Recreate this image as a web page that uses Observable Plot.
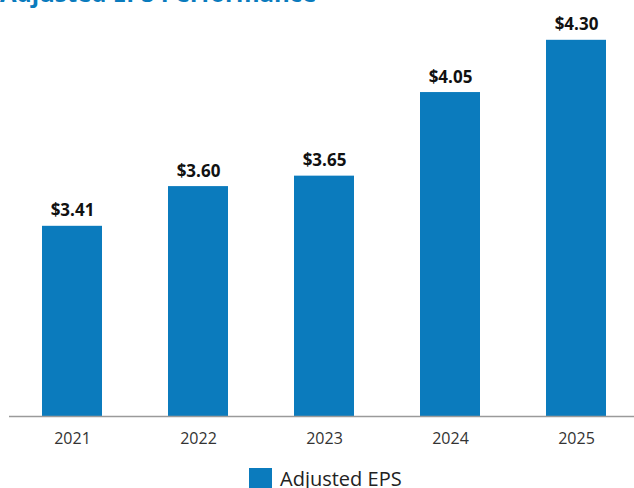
<!DOCTYPE html>
<html>
<head>
<meta charset="utf-8">
<script src="https://cdn.jsdelivr.net/npm/d3@7"></script>
<script src="https://cdn.jsdelivr.net/npm/@observablehq/plot@0.6"></script>
<style>
  html, body { margin: 0; padding: 0; background: #fff; width: 634px; height: 488px; overflow: hidden; }
  #wrap { position: relative; width: 634px; height: 488px; }
  #title { position: absolute; left: 0; top: -22px; font-family: "Open Sans", sans-serif; font-weight: 700; font-size: 24px; line-height: 30px; color: #0a7bbd; white-space: nowrap; }
  #chart { position: absolute; left: 0; top: 0; }
  #legend { position: absolute; left: 249px; top: 468px; display: flex; align-items: flex-start; font-family: "Open Sans", sans-serif; font-size: 20px; color: #222; }
  #legend .sw { width: 23px; height: 23px; background: #0b7bbd; margin-right: 8px; }
  #legend .lb { line-height: 22px; margin-top: 0px; }
</style>
</head>
<body>
<div id="wrap">
  <div id="title">Adjusted EPS Performance</div>
  <div id="chart"></div>
  <div id="legend"><div class="sw"></div><div class="lb">Adjusted EPS</div></div>
</div>
<script>
const years = ["2021", "2022", "2023", "2024", "2025"];
const eps = [3.41, 3.60, 3.65, 4.05, 4.30];
const epsLabels = ["$3.41", "$3.60", "$3.65", "$4.05", "$4.30"];

const data = years.map((y, i) => ({year: y, value: eps[i], label: epsLabels[i]}));
const barColor = "#0b7bbd";

const chart = Plot.plot({
  width: 634,
  height: 460,
  marginLeft: 9,
  marginRight: 0,
  marginTop: 0,
  marginBottom: 44,
  style: {background: "transparent", overflow: "visible"},
  x: {domain: years, range: [9, 639], paddingInner: 0.524, paddingOuter: 0.262, label: null},
  y: {domain: [2.5, 4.5], range: [416, -2], axis: null},
  marks: [
    Plot.barY(data, {x: "year", y1: 2.5, y2: "value", fill: barColor}),
    Plot.ruleY([2.5], {stroke: "#9a9a9a", strokeWidth: 1.5}),
    Plot.text(data, {x: "year", y: "value", text: "label", dy: -10, lineAnchor: "bottom",
      fontFamily: "Open Sans, sans-serif", fontWeight: 700, fontSize: 17, fill: "#111"}),
    Plot.axisX({tickSize: 0, tickPadding: 16, fontSize: 16, fontFamily: "Open Sans, sans-serif", color: "#333", label: null})
  ]
});
document.getElementById("chart").appendChild(chart);
</script>
</body>
</html>
